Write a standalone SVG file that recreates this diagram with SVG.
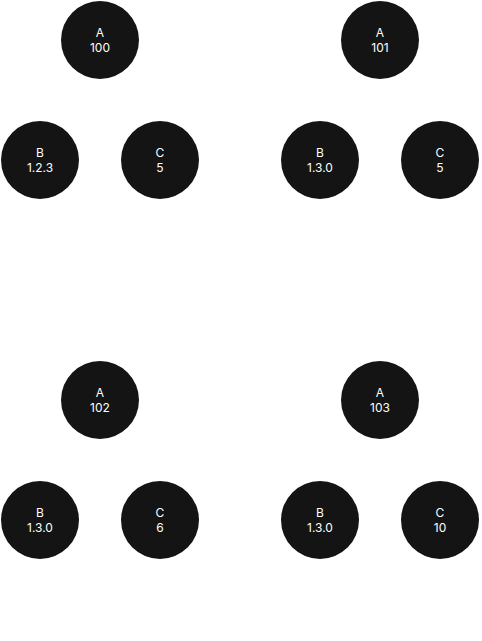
<svg xmlns="http://www.w3.org/2000/svg" width="482" height="641" viewBox="0 0 482 641">
<style>
.n{fill:#141414}
.t{fill:#ffffff;font-family:Inter,"Noto Sans",sans-serif;font-size:12px;text-anchor:middle}
</style>
<rect width="482" height="641" fill="#ffffff"/>
<g id="connectors"></g>
<g id="t1A"><circle class="n" cx="100" cy="40" r="39"/><text class="t" x="100" y="37">A</text><text class="t" x="100" y="52">100</text></g>
<g id="t1B"><circle class="n" cx="40" cy="160" r="39"/><text class="t" x="40" y="157">B</text><text class="t" x="40" y="172">1.2.3</text></g>
<g id="t1C"><circle class="n" cx="160" cy="160" r="39"/><text class="t" x="160" y="157">C</text><text class="t" x="160" y="172">5</text></g>
<g id="t2A"><circle class="n" cx="380" cy="40" r="39"/><text class="t" x="380" y="37">A</text><text class="t" x="380" y="52">101</text></g>
<g id="t2B"><circle class="n" cx="320" cy="160" r="39"/><text class="t" x="320" y="157">B</text><text class="t" x="320" y="172">1.3.0</text></g>
<g id="t2C"><circle class="n" cx="440" cy="160" r="39"/><text class="t" x="440" y="157">C</text><text class="t" x="440" y="172">5</text></g>
<g id="t3A"><circle class="n" cx="100" cy="400" r="39"/><text class="t" x="100" y="397">A</text><text class="t" x="100" y="412">102</text></g>
<g id="t3B"><circle class="n" cx="40" cy="520" r="39"/><text class="t" x="40" y="517">B</text><text class="t" x="40" y="532">1.3.0</text></g>
<g id="t3C"><circle class="n" cx="160" cy="520" r="39"/><text class="t" x="160" y="517">C</text><text class="t" x="160" y="532">6</text></g>
<g id="t4A"><circle class="n" cx="380" cy="400" r="39"/><text class="t" x="380" y="397">A</text><text class="t" x="380" y="412">103</text></g>
<g id="t4B"><circle class="n" cx="320" cy="520" r="39"/><text class="t" x="320" y="517">B</text><text class="t" x="320" y="532">1.3.0</text></g>
<g id="t4C"><circle class="n" cx="440" cy="520" r="39"/><text class="t" x="440" y="517">C</text><text class="t" x="440" y="532">10</text></g>
</svg>
